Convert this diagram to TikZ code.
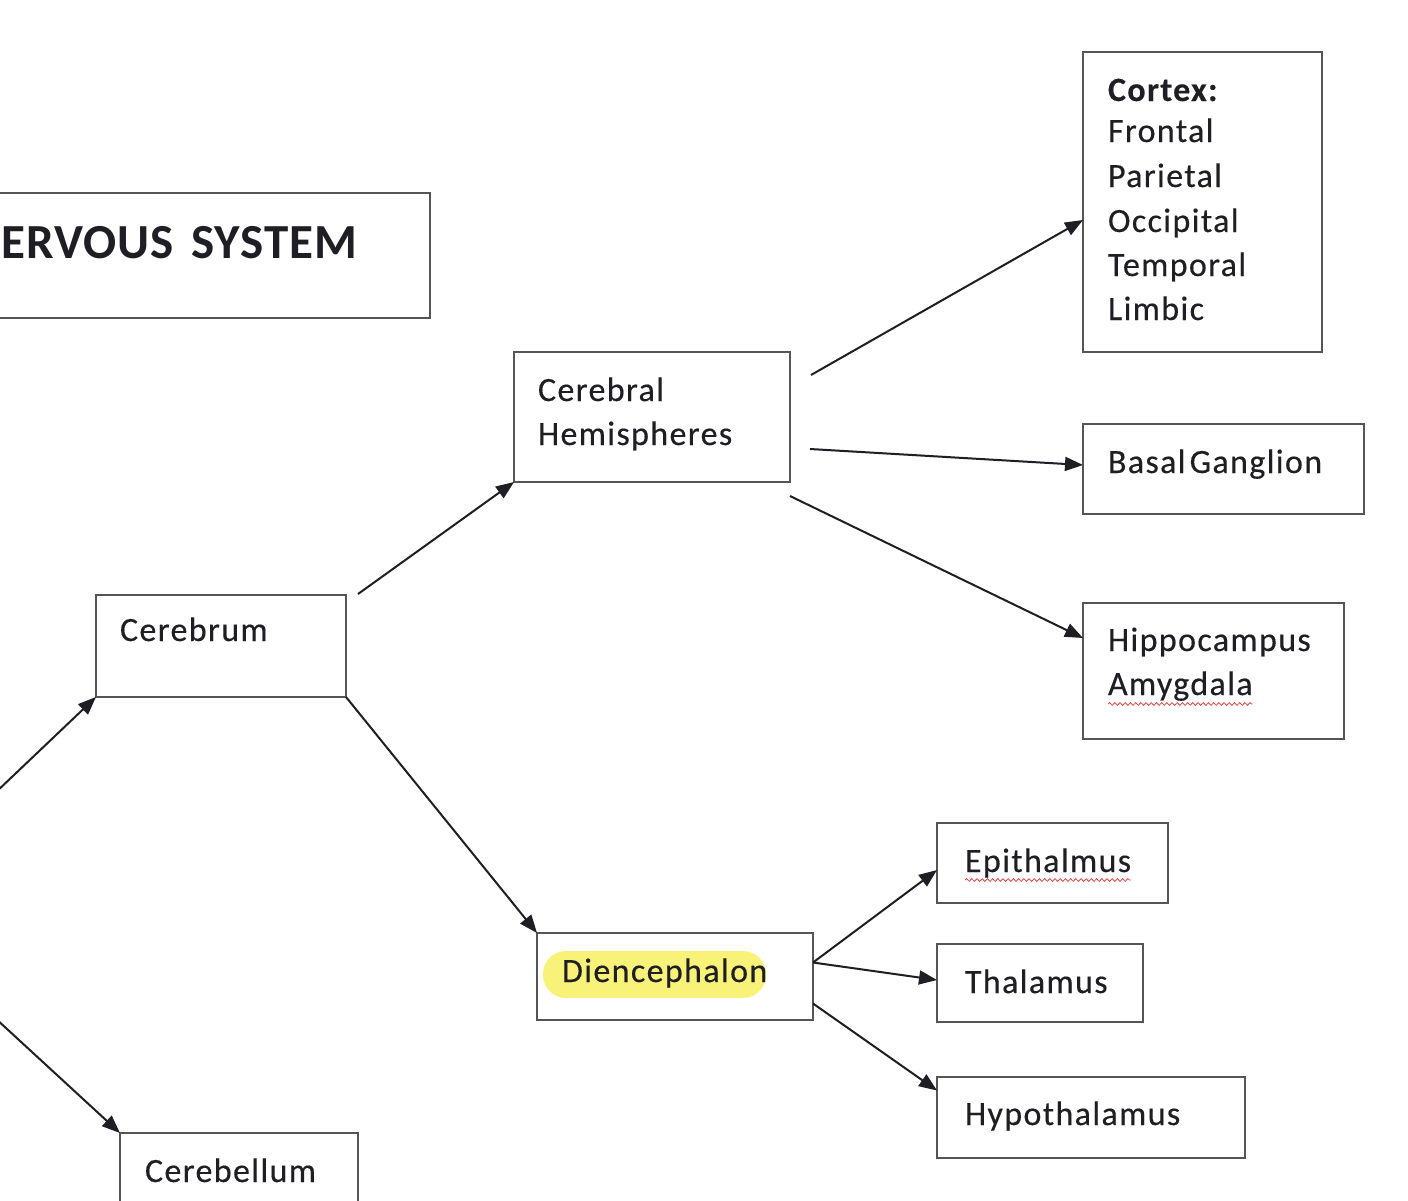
\documentclass[tikz,border=0pt]{standalone}
\usepackage{fontspec}
\setmainfont{Carlito}[LetterSpace=4,FakeBold=0.3]
\newfontfamily\titlefont{Carlito}[LetterSpace=2]
\usetikzlibrary{arrows.meta,fit,calc,decorations.pathmorphing}
\definecolor{boxline}{RGB}{85,85,85}
\definecolor{ink}{RGB}{30,30,36}
\definecolor{hl}{RGB}{248,243,120}
\definecolor{spell}{RGB}{225,70,70}
\begin{document}
\begin{tikzpicture}[x=0.5pt,y=-0.5pt,
  box/.style={draw=boxline,line width=1.3pt,inner sep=0pt,outer sep=0pt},
  lbl/.style={anchor=base west,inner sep=0pt,outer sep=0pt,text=ink,font=\fontsize{17}{20}\selectfont},
  conn/.style={draw=ink,line width=1pt,-{Triangle[length=9pt,width=7pt]}},
  squig/.style={draw=spell,line width=0.4pt,decorate,decoration={snake,amplitude=0.7pt,segment length=2.6pt}}]
\useasboundingbox (0,0) rectangle (1408,1200);
\clip (0,0) rectangle (1408,1200);
\fill[white] (0,0) rectangle (1408,1200);

% highlight
\fill[hl,rounded corners=11.5pt] (543,951) rectangle (766,998);

% boxes
\node[box,fit={(-20,193) (430,318)}] (title) {};
\node[box,fit={(1083,52) (1322,352)}] (cortex) {};
\node[box,fit={(514,352) (790,482)}] (ch) {};
\node[box,fit={(1083,424) (1364,514)}] (basal) {};
\node[box,fit={(1083,603) (1344,739)}] (hippo) {};
\node[box,fit={(96,595) (346,697)}] (cerebrum) {};
\node[box,fit={(537,933) (813,1020)}] (dien) {};
\node[box,fit={(937,823) (1168,903)}] (epith) {};
\node[box,fit={(937,944) (1143,1022)}] (thal) {};
\node[box,fit={(937,1077) (1245,1158)}] (hypo) {};
\node[box,fit={(120,1133) (358,1240)}] (cerebellum) {};

% texts
\node[anchor=base west,inner sep=0pt,text=ink,font=\titlefont\bfseries\fontsize{24.5}{30}\selectfont] (titleT) at (1,258) {ERVOUS\hspace{9pt}SYSTEM};
\node[lbl,font=\bfseries\fontsize{17}{20}\selectfont] (cx0) at (1108,101) {Cortex:};
\node[lbl] (cx1) at (1108,142) {Frontal};
\node[lbl] (cx2) at (1108,187) {Parietal};
\node[lbl] (cx3) at (1108,232) {Occipital};
\node[lbl] (cx4) at (1108,276) {Temporal};
\node[lbl] (cx5) at (1108,320) {Limbic};
\node[lbl] (ch1) at (538,401) {Cerebral};
\node[lbl] (ch2) at (538,445) {Hemispheres};
\node[lbl] (basalT) at (1108,473) {Basal\kern-2.5pt\ Ganglion};
\node[lbl] (hip1) at (1108,651) {Hippocampus};
\node[lbl] (hip2) at (1108,695) {Amygdala};
\node[lbl] (cerebrumT) at (120,641) {Cerebrum};
\node[lbl] (dienT) at (562,982) {Diencephalon};
\node[lbl] (epithT) at (965,872) {Epithalmus};
\node[lbl] (thalT) at (965,993) {Thalamus};
\node[lbl] (hypoT) at (965,1125) {Hypothalamus};
\node[lbl] (cerebellumT) at (145,1182) {Cerebellum};

% spell-check underlines
\draw[squig] ($(hip2.base west)+(0,9)$) -- ($(hip2.base east)+(0,9)$);
\draw[squig] ($(epithT.base west)+(0,8)$) -- ($(epithT.base east)+(0,8)$);

% connectors
\coordinate (inA) at (-6,794);
\coordinate (inB) at (-6,1017);
\draw[conn] (inA) -- (cerebrum.south west);
\draw[conn] (inB) -- (cerebellum.north west);
\draw[conn] ($(cerebrum.north east)+(12,-1)$) -- (ch.south west);
\draw[conn] (cerebrum.south east) -- (dien.north west);
\draw[conn] ($(ch.north east)+(21,23)$) -- ($(cortex.west)+(0,18)$);
\draw[conn] ($(ch.east)+(20,32)$) -- ($(basal.west)+(0,-4)$);
\draw[conn] ($(ch.south east)+(0,14)$) -- ($(hippo.west)+(0,-33)$);
\draw[conn] ($(dien.east)+(0,-14)$) -- ($(epith.west)+(0,7)$);
\draw[conn] ($(dien.east)+(0,-14)$) -- ($(thal.west)+(0,-3)$);
\draw[conn] ($(dien.east)+(0,27)$) -- ($(hypo.west)+(0,-27)$);
\end{tikzpicture}
\end{document}
